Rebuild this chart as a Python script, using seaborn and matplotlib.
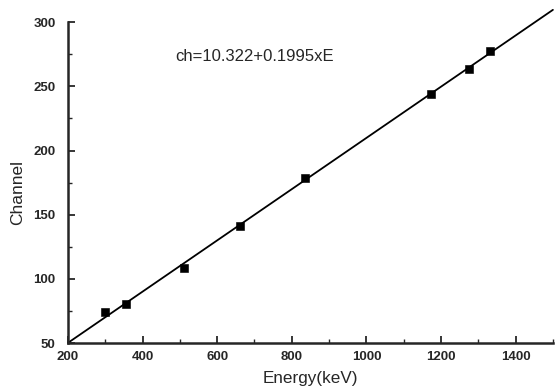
import numpy as np
import matplotlib
matplotlib.use("Agg")
import matplotlib.pyplot as plt
import seaborn as sns
import pandas as pd
from matplotlib.ticker import MultipleLocator

# measured calibration points
energy = [300, 356, 511, 662, 835, 1173, 1275, 1332]
channel = [74, 80.5, 108.5, 141.5, 178.5, 244, 263.5, 277.5]

# fitted line ch = 10.322 + 0.1995 E, end points
fit_energy = [200, 1500]
fit_channel = [50.2, 309.6]

eq_text = "ch=10.322+0.1995xE"

sns.set_style("ticks")
plt.rcParams['font.family'] = ['Liberation Sans', 'DejaVu Sans']

fig = plt.figure(figsize=(5.59, 3.89), dpi=100)
ax = fig.add_axes([0.1216, 0.118, 0.8675, 0.825])

pts = pd.DataFrame({"E": energy, "ch": channel})
fit = pd.DataFrame({"E": fit_energy, "ch": fit_channel})

sns.lineplot(data=fit, x="E", y="ch", color="black", linewidth=1.3, ax=ax)
ax.lines[-1].set_clip_on(False)
sns.scatterplot(data=pts, x="E", y="ch", marker="s", color="black", s=28,
                edgecolor="black", ax=ax, zorder=3)

ax.set_xlim(200, 1500)
ax.set_ylim(50, 300)
ax.xaxis.set_major_locator(MultipleLocator(200))
ax.xaxis.set_minor_locator(MultipleLocator(100))
ax.yaxis.set_major_locator(MultipleLocator(50))
ax.yaxis.set_minor_locator(MultipleLocator(25))
ax.tick_params(which="major", direction="in", length=5, width=1.3,
               labelsize=9.5)
ax.tick_params(axis="x", which="major", pad=6)
ax.tick_params(axis="y", which="major", pad=9)
ax.tick_params(which="minor", direction="in", length=3, width=1.0)
for lab in ax.get_xticklabels() + ax.get_yticklabels():
    lab.set_fontweight("bold")

sns.despine(ax=ax)
for side in ["left", "bottom"]:
    ax.spines[side].set_linewidth(1.8)

ax.set_xlabel("Energy(keV)", fontsize=12.3)
ax.set_ylabel("Channel", fontsize=12.5)
ax.xaxis.set_label_coords(0.499, -0.109)
ax.yaxis.set_label_coords(-0.103, 0.47)
ax.xaxis.label.set_va("center")
ax.yaxis.label.set_va("center")
ax.text(487, 273.5, eq_text, fontsize=12, va="center", ha="left")

fig.savefig("out.png", dpi=100)
